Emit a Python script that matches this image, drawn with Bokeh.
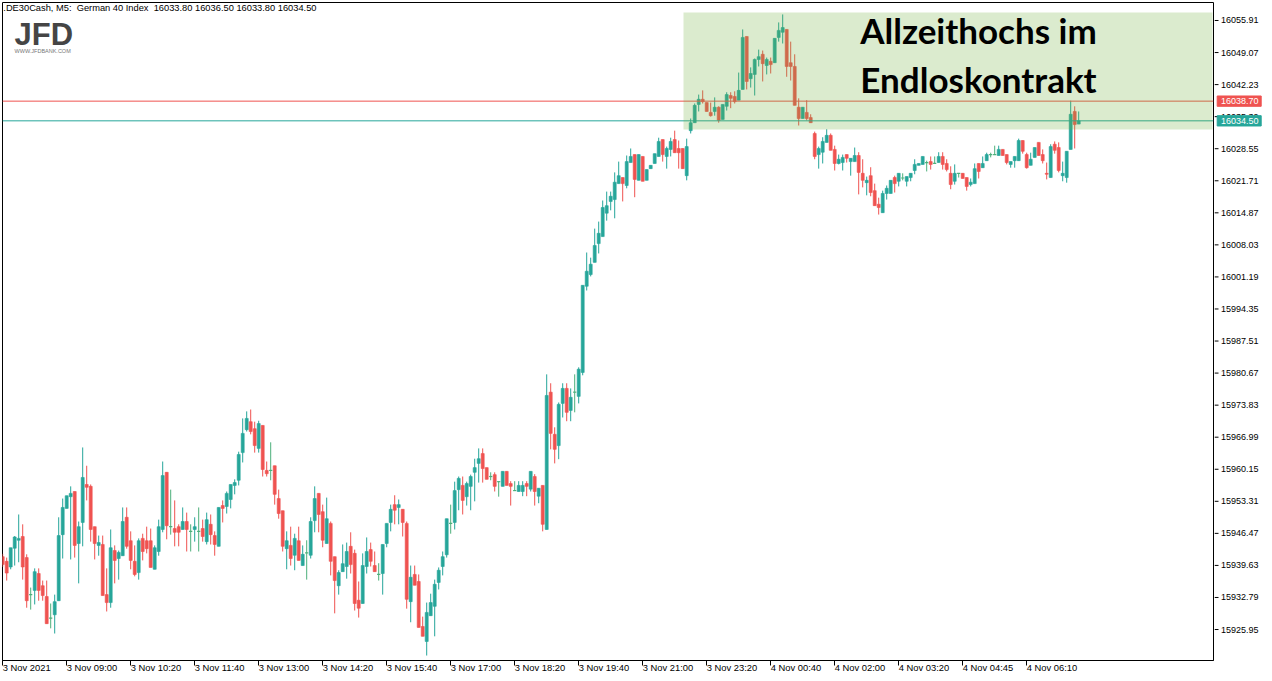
from bokeh.plotting import figure
from bokeh.layouts import row
from bokeh.core.properties import value
from bokeh.models import (Range1d, FixedTicker, Span, BoxAnnotation, Label, ColumnDataSource)
from bokeh.embed import file_html
from bokeh.resources import INLINE

# .DE30Cash M5 candles, 3 Nov 2021 07:40 -> 4 Nov 2021 07:05 (bar index on the x axis)
opens = [
    15941.5, 15940.5, 15939.3, 15943.3, 15945.0, 15945.8, 15941.3, 15933.4, 15934.3, 15937.9,
    15935.3, 15933.0, 15928.4, 15929.1, 15932.1, 15946.2, 15951.8, 15954.3, 15955.4, 15944.3,
    15948.8, 15956.9, 15956.5, 15947.9, 15943.9, 15944.1, 15933.4, 15931.7, 15942.8, 15941.1,
    15941.7, 15949.9, 15944.9, 15940.5, 15938.1, 15945.4, 15944.9, 15944.9, 15938.8, 15942.6,
    15947.3, 15959.5, 15947.9, 15947.5, 15947.9, 15947.3, 15949.0, 15946.9, 15947.3, 15946.9,
    15947.5, 15944.7, 15948.4, 15946.0, 15943.7, 15952.4, 15952.2, 15953.7, 15956.7, 15957.8,
    15963.7, 15968.6, 15970.3, 15968.8, 15964.6, 15969.5, 15959.9, 15959.9, 15960.9, 15953.9,
    15951.3, 15943.2, 15943.9, 15941.8, 15944.9, 15939.6, 15942.3, 15941.8, 15949.2, 15955.0,
    15951.1, 15944.3, 15948.6, 15941.5, 15935.3, 15938.3, 15939.4, 15943.7, 15942.2, 15932.2,
    15931.5, 15939.4, 15943.0, 15939.6, 15937.7, 15937.9, 15944.3, 15948.8, 15952.6, 15952.0,
    15951.6, 15948.6, 15931.9, 15937.7, 15936.2, 15926.6, 15923.4, 15928.9, 15930.9, 15936.0,
    15939.4, 15941.9, 15948.6, 15948.8, 15955.8, 15956.7, 15954.3, 15956.5, 15959.5, 15961.4,
    15963.5, 15960.5, 15958.6, 15959.0, 15957.5, 15956.5, 15959.7, 15957.1, 15955.6, 15955.4,
    15955.4, 15957.1, 15955.9, 15958.6, 15954.4, 15956.7, 15947.3, 15976.6, 15967.6, 15965.2,
    15974.2, 15977.4, 15972.7, 15976.6, 15975.7, 15980.8, 15999.2, 16001.7, 16004.3, 16008.3,
    16009.8, 16014.8, 16017.3, 16017.7, 16021.1, 16022.4, 16020.7, 16025.6, 16027.3, 16021.8,
    16026.9, 16021.8, 16024.3, 16025.4, 16026.9, 16030.5, 16026.9, 16028.4, 16030.5, 16028.6,
    16028.6, 16022.8, 16032.4, 16034.1, 16038.0, 16039.1, 16038.4, 16036.3, 16036.5, 16037.4,
    16034.8, 16037.6, 16039.9, 16039.7, 16038.9, 16041.2, 16052.5, 16043.5, 16044.4, 16047.6,
    16048.7, 16046.3, 16047.2, 16046.9, 16052.3, 16053.4, 16054.0, 16046.9, 16046.1, 16037.4,
    16035.0, 16036.3, 16035.2, 16031.8, 16027.3, 16027.8, 16029.9, 16031.4, 16028.4, 16025.4,
    16025.6, 16027.3, 16025.8, 16025.8, 16027.1, 16023.3, 16021.3, 16022.8, 16019.6, 16016.7,
    16014.9, 16019.0, 16019.0, 16022.4, 16021.6, 16022.3, 16021.6, 16022.4, 16023.9, 16025.0,
    16025.2, 16025.6, 16025.8, 16025.4, 16025.6, 16026.9, 16025.4, 16023.3, 16021.6, 16023.3,
    16023.3, 16022.4, 16020.9, 16021.1, 16025.4, 16024.5, 16026.0, 16027.3, 16027.3, 16027.1,
    16028.4, 16027.3, 16025.2, 16026.0, 16026.0, 16030.3, 16027.3, 16025.0, 16026.7, 16029.9,
    16027.3, 16023.3, 16022.4, 16029.5, 16028.8, 16022.8, 16022.4, 16028.4, 16036.5, 16033.8,
]
highs = [
    15942.1, 15941.3, 15943.4, 15945.9, 15950.5, 15948.4, 15942.0, 15934.9, 15939.0, 15939.0,
    15936.4, 15936.4, 15931.5, 15933.4, 15949.9, 15953.9, 15954.5, 15956.5, 15955.4, 15949.0,
    15964.8, 15960.9, 15956.9, 15947.9, 15946.0, 15946.0, 15939.0, 15947.3, 15943.9, 15942.8,
    15952.0, 15952.0, 15946.9, 15943.9, 15945.4, 15946.4, 15947.9, 15947.5, 15943.9, 15949.4,
    15961.8, 15959.5, 15955.8, 15953.5, 15948.4, 15952.0, 15950.9, 15948.4, 15949.9, 15952.0,
    15949.4, 15950.9, 15950.5, 15946.9, 15952.0, 15953.5, 15955.4, 15956.9, 15958.0, 15963.9,
    15971.0, 15972.5, 15972.9, 15970.3, 15970.5, 15969.5, 15961.8, 15965.9, 15960.9, 15955.8,
    15951.3, 15946.9, 15947.9, 15946.4, 15947.9, 15943.9, 15945.0, 15949.9, 15956.5, 15955.0,
    15952.6, 15954.1, 15949.0, 15941.5, 15938.6, 15944.1, 15944.5, 15946.7, 15943.0, 15936.2,
    15942.2, 15945.6, 15944.5, 15942.6, 15940.1, 15944.1, 15948.6, 15952.6, 15954.6, 15953.7,
    15951.6, 15949.0, 15939.6, 15939.6, 15937.7, 15928.7, 15931.7, 15933.6, 15936.6, 15939.2,
    15942.6, 15949.6, 15952.6, 15957.5, 15958.6, 15958.6, 15957.5, 15959.0, 15962.4, 15964.6,
    15964.6, 15960.5, 15959.5, 15959.5, 15957.5, 15959.7, 15959.7, 15957.6, 15957.6, 15957.6,
    15957.6, 15957.6, 15959.7, 15959.1, 15956.1, 15956.7, 15980.4, 15978.5, 15969.1, 15974.4,
    15978.5, 15978.5, 15977.4, 15980.4, 15981.9, 15999.4, 16006.4, 16005.3, 16011.5, 16013.0,
    16017.5, 16019.4, 16019.4, 16023.5, 16025.8, 16022.4, 16027.1, 16028.6, 16027.3, 16027.3,
    16026.9, 16024.1, 16025.0, 16027.5, 16030.9, 16030.5, 16029.0, 16030.9, 16032.4, 16030.3,
    16028.6, 16030.7, 16035.0, 16038.2, 16040.1, 16041.0, 16038.4, 16038.4, 16039.5, 16037.6,
    16038.0, 16040.6, 16040.6, 16040.8, 16044.8, 16054.0, 16052.5, 16045.9, 16047.8, 16049.7,
    16049.5, 16048.0, 16048.0, 16052.1, 16055.5, 16057.2, 16054.0, 16051.4, 16048.7, 16039.3,
    16037.4, 16038.9, 16035.9, 16032.2, 16029.0, 16031.0, 16032.7, 16031.8, 16029.2, 16027.3,
    16027.3, 16027.3, 16026.5, 16028.8, 16027.8, 16026.3, 16022.6, 16024.6, 16021.1, 16018.1,
    16019.6, 16020.7, 16021.8, 16022.8, 16023.3, 16023.3, 16022.6, 16023.3, 16026.3, 16025.4,
    16026.9, 16026.0, 16026.9, 16026.9, 16027.8, 16027.8, 16026.3, 16024.8, 16025.2, 16023.3,
    16023.3, 16022.4, 16022.2, 16025.4, 16025.4, 16026.9, 16027.7, 16027.7, 16029.2, 16029.2,
    16028.4, 16027.3, 16025.8, 16026.9, 16030.7, 16030.3, 16027.7, 16027.7, 16028.8, 16029.9,
    16028.4, 16025.6, 16029.5, 16030.1, 16029.9, 16025.8, 16028.0, 16038.8, 16037.6, 16036.5,
]
lows = [
    15939.3, 15936.4, 15938.8, 15939.6, 15940.3, 15936.6, 15930.6, 15930.2, 15931.3, 15932.1,
    15932.1, 15927.2, 15926.2, 15925.1, 15932.1, 15941.1, 15951.8, 15940.9, 15941.3, 15935.8,
    15943.7, 15953.5, 15944.7, 15940.9, 15941.7, 15933.2, 15929.8, 15930.6, 15935.8, 15936.6,
    15941.7, 15943.2, 15938.8, 15937.3, 15936.6, 15940.7, 15942.2, 15939.2, 15938.8, 15941.7,
    15946.7, 15945.2, 15946.2, 15943.7, 15943.7, 15947.3, 15942.6, 15942.6, 15944.7, 15942.6,
    15944.7, 15944.1, 15944.1, 15941.7, 15943.7, 15948.8, 15950.7, 15951.8, 15954.8, 15956.7,
    15961.6, 15968.2, 15967.6, 15963.7, 15963.7, 15958.6, 15958.6, 15957.8, 15952.6, 15949.6,
    15942.6, 15938.8, 15939.6, 15938.6, 15940.7, 15939.6, 15936.6, 15941.1, 15946.7, 15946.7,
    15943.5, 15944.3, 15937.5, 15929.4, 15933.4, 15938.3, 15936.8, 15937.9, 15930.0, 15928.5,
    15931.5, 15937.9, 15939.4, 15938.3, 15936.4, 15933.4, 15943.5, 15946.9, 15948.4, 15948.4,
    15945.8, 15930.4, 15927.5, 15935.4, 15926.4, 15924.5, 15920.4, 15928.9, 15924.5, 15934.5,
    15937.5, 15941.3, 15946.4, 15947.3, 15951.4, 15950.5, 15952.4, 15951.4, 15953.3, 15957.3,
    15957.3, 15958.0, 15957.8, 15955.4, 15954.3, 15956.5, 15956.7, 15952.4, 15955.6, 15955.4,
    15954.4, 15954.4, 15955.4, 15952.4, 15952.9, 15946.9, 15947.3, 15964.4, 15961.4, 15962.3,
    15971.2, 15970.4, 15970.4, 15972.3, 15974.2, 15980.2, 15998.3, 16001.3, 16004.3, 16006.2,
    16009.8, 16013.2, 16015.4, 16013.7, 16021.1, 16017.3, 16020.1, 16025.6, 16018.2, 16021.8,
    16021.6, 16021.8, 16024.3, 16025.4, 16026.9, 16025.8, 16024.3, 16026.9, 16027.7, 16024.3,
    16024.3, 16021.8, 16031.8, 16034.1, 16036.5, 16038.2, 16036.5, 16035.4, 16035.6, 16034.1,
    16034.8, 16036.7, 16037.2, 16038.2, 16038.9, 16041.2, 16041.2, 16041.6, 16039.9, 16046.1,
    16042.9, 16044.4, 16044.6, 16046.9, 16051.4, 16051.0, 16043.9, 16043.1, 16037.8, 16033.5,
    16035.0, 16034.6, 16034.1, 16026.3, 16024.3, 16025.4, 16029.9, 16028.2, 16023.9, 16025.2,
    16023.9, 16025.6, 16022.8, 16025.8, 16018.8, 16020.3, 16018.6, 16018.4, 16016.4, 16014.5,
    16014.9, 16017.7, 16019.0, 16019.2, 16020.5, 16021.8, 16020.5, 16021.6, 16023.1, 16025.0,
    16025.2, 16023.7, 16024.1, 16025.4, 16025.6, 16024.1, 16023.7, 16019.9, 16020.9, 16022.4,
    16022.2, 16019.6, 16020.5, 16021.1, 16022.2, 16024.5, 16026.0, 16026.7, 16027.3, 16027.1,
    16027.1, 16025.2, 16024.5, 16024.5, 16026.0, 16027.5, 16024.3, 16025.0, 16026.7, 16027.1,
    16025.4, 16022.0, 16022.4, 16027.5, 16023.5, 16021.6, 16021.3, 16028.4, 16028.6, 16033.8,
]
closes = [
    15939.8, 15938.0, 15943.4, 15945.7, 15945.4, 15939.3, 15932.1, 15933.4, 15938.3, 15934.3,
    15933.2, 15927.2, 15928.4, 15931.9, 15946.0, 15952.0, 15954.5, 15955.0, 15943.9, 15947.9,
    15958.4, 15956.3, 15947.3, 15944.3, 15944.5, 15933.2, 15931.7, 15943.4, 15940.7, 15942.4,
    15949.0, 15943.7, 15940.7, 15937.7, 15944.9, 15942.6, 15943.2, 15939.2, 15943.4, 15947.9,
    15958.8, 15948.1, 15947.9, 15946.7, 15946.7, 15949.0, 15947.3, 15946.9, 15947.9, 15946.9,
    15945.8, 15949.4, 15946.2, 15944.1, 15952.0, 15951.8, 15955.0, 15956.9, 15957.3, 15963.3,
    15967.8, 15971.0, 15968.2, 15965.2, 15969.9, 15960.1, 15959.2, 15959.9, 15954.8, 15950.7,
    15943.7, 15944.9, 15941.1, 15945.4, 15940.7, 15942.0, 15942.3, 15949.0, 15953.9, 15950.5,
    15945.0, 15949.6, 15940.5, 15936.4, 15938.1, 15940.0, 15942.6, 15939.8, 15931.5, 15930.5,
    15939.6, 15942.6, 15940.5, 15938.3, 15937.7, 15944.1, 15948.6, 15951.6, 15951.4, 15952.6,
    15948.8, 15932.4, 15937.1, 15935.4, 15926.4, 15924.5, 15929.6, 15931.7, 15935.6, 15938.6,
    15941.5, 15949.6, 15948.6, 15955.6, 15958.2, 15953.5, 15957.1, 15958.6, 15960.5, 15962.4,
    15960.3, 15958.0, 15958.6, 15956.5, 15957.5, 15959.7, 15956.7, 15956.5, 15955.6, 15956.7,
    15956.7, 15956.5, 15959.7, 15955.4, 15956.1, 15948.4, 15975.9, 15967.8, 15964.4, 15974.0,
    15977.4, 15972.3, 15975.5, 15976.6, 15981.5, 15999.4, 16002.4, 16003.9, 16007.9, 16010.5,
    16016.0, 16016.4, 16018.4, 16021.4, 16022.8, 16021.1, 16025.8, 16026.9, 16022.0, 16027.3,
    16021.6, 16024.1, 16025.0, 16027.5, 16030.1, 16027.3, 16028.6, 16030.1, 16027.7, 16027.7,
    16024.3, 16029.0, 16034.1, 16037.8, 16039.1, 16038.6, 16036.5, 16035.6, 16037.4, 16034.6,
    16038.0, 16040.1, 16039.3, 16038.6, 16041.0, 16052.3, 16042.9, 16044.6, 16047.6, 16048.2,
    16046.7, 16047.6, 16046.5, 16052.1, 16053.8, 16054.4, 16046.1, 16046.1, 16037.8, 16035.0,
    16037.4, 16035.0, 16034.1, 16026.9, 16028.6, 16030.1, 16031.4, 16028.2, 16025.4, 16026.3,
    16026.7, 16026.5, 16026.5, 16027.1, 16023.5, 16021.8, 16021.8, 16019.2, 16016.4, 16016.0,
    16019.0, 16020.1, 16021.8, 16021.1, 16023.3, 16022.3, 16022.6, 16023.3, 16025.2, 16025.4,
    16026.9, 16025.6, 16025.2, 16025.4, 16026.9, 16025.2, 16024.1, 16020.9, 16023.3, 16023.3,
    16022.2, 16020.5, 16021.4, 16024.3, 16023.7, 16025.4, 16027.3, 16027.3, 16027.3, 16028.4,
    16027.1, 16025.6, 16025.8, 16026.9, 16030.3, 16028.0, 16024.5, 16026.3, 16028.8, 16027.1,
    16026.0, 16023.1, 16029.0, 16028.2, 16023.9, 16023.3, 16028.0, 16035.9, 16033.7, 16034.5,
]

# time axis labels (every 16 bars)
time_ticks = [0, 16, 32, 48, 64, 80, 96, 112, 128, 144, 160, 176, 192, 208, 224, 240, 256]
time_labels = ["3 Nov 2021", "3 Nov 09:00", "3 Nov 10:20", "3 Nov 11:40", "3 Nov 13:00",
               "3 Nov 14:20", "3 Nov 15:40", "3 Nov 17:00", "3 Nov 18:20", "3 Nov 19:40",
               "3 Nov 21:00", "3 Nov 23:20", "4 Nov 00:40", "4 Nov 02:00", "4 Nov 03:20",
               "4 Nov 04:45", "4 Nov 06:10"]

# price scale
price_ticks = [15925.95, 15932.79, 15939.63, 15946.47, 15953.31, 15960.15, 15966.99,
               15973.83, 15980.67, 15987.51, 15994.35, 16001.19, 16008.03, 16014.87,
               16021.71, 16028.55, 16035.39, 16042.23, 16049.07, 16055.91]

# reference lines and the all-time-high zone
line_high = 16038.70
line_bid = 16034.50
zone_top = 16057.6
zone_bottom = 16032.65
zone_first_bar = 170.2

NB = "\u00a0"
header = f".DE30Cash, M5: {NB}German 40 Index {NB}16033.80 16036.50 16033.80 16034.50"
title_lines = ["Allzeithochs im", "Endloskontrakt"]

UP = "#26a69a"
DOWN = "#ef5350"
FLAT = "#4caf7a"

n = len(opens)
bars = list(range(n))
body = [i for i in bars if opens[i] != closes[i]]
flat = [i for i in bars if opens[i] == closes[i]]

wick_src = ColumnDataSource(dict(
    x=bars, high=highs, low=lows,
    color=[UP if closes[i] > opens[i] else DOWN if closes[i] < opens[i] else FLAT for i in bars]))
body_src = ColumnDataSource(dict(
    x=body,
    top=[max(opens[i], closes[i]) for i in body],
    bottom=[min(opens[i], closes[i]) for i in body],
    color=[UP if closes[i] > opens[i] else DOWN for i in body]))
flat_src = ColumnDataSource(dict(
    x0=[i - 0.4 for i in flat], x1=[i + 0.4 for i in flat], y=[closes[i] for i in flat]))

price_range = Range1d(15919.34, 16059.75)

# ---- chart pane ----
p = figure(width=1214, height=681, output_backend="svg", toolbar_location=None,
           x_range=Range1d(-0.05, 302.7), y_range=price_range,
           y_axis_location=None,
           min_border_left=2, min_border_top=2, min_border_right=1, min_border_bottom=21)
p.background_fill_color = "white"
p.border_fill_color = "white"
p.outline_line_color = "black"
p.outline_line_width = 1
p.xgrid.visible = False
p.ygrid.visible = False

p.segment(x0="x", y0="low", x1="x", y1="high", line_color="color", line_width=1, source=wick_src)
p.vbar(x="x", width=0.75, top="top", bottom="bottom", fill_color="color",
       line_color="color", line_width=0.6, source=body_src)
p.segment(x0="x0", y0="y", x1="x1", y1="y", line_color=FLAT, line_width=1.2, source=flat_src)

p.add_layout(Span(location=line_high, dimension="width", line_color="#ef5350", line_width=1))
p.add_layout(Span(location=line_bid, dimension="width", line_color="#26a69a", line_width=1))

p.add_layout(BoxAnnotation(left=zone_first_bar, right=302.45, top=zone_top, bottom=zone_bottom,
                           fill_color="#6faf3b", fill_alpha=0.25, line_alpha=0))

xax = p.xaxis[0]
xax.ticker = FixedTicker(ticks=time_ticks)
xax.major_label_overrides = {t: s for t, s in zip(time_ticks, time_labels)}
xax.major_label_orientation = -0.0001
xax.major_tick_in = 0
xax.major_tick_out = 5
xax.minor_tick_out = 0
xax.minor_tick_in = 0
xax.major_label_standoff = 2
xax.major_label_text_font = "Liberation Sans"
xax.major_label_text_font_size = "9.4px"
xax.major_label_text_color = "black"
xax.axis_line_color = "black"

# zone caption
p.add_layout(Label(x=243.95, y=16053.78, text=title_lines[0], text_align="center",
                   text_baseline="alphabetic", text_font="Lato", text_font_style="bold",
                   text_font_size="35px", text_color="black"))
p.add_layout(Label(x=243.95, y=16043.53, text=title_lines[1], text_align="center",
                   text_baseline="alphabetic", text_font="Lato", text_font_style="bold",
                   text_font_size="35px", text_color="black"))

# symbol header and broker mark
p.add_layout(Label(x=0.15, y=16059.6, text=header, text_align="left", text_baseline="top",
                   text_font="Liberation Sans", text_font_size="9.3px", text_color="black",
                   background_fill_color="white"))
p.add_layout(Label(x=2.95, y=16052.92, text="JFD", text_align="left",
                   text_baseline="alphabetic", text_font="Liberation Sans",
                   text_font_style="bold", text_font_size="31px", text_color="#454545"))
p.add_layout(Label(x=2.95, y=16049.5, text="WWW.JFDBANK.COM", text_align="left",
                   text_baseline="alphabetic", text_font="Liberation Sans",
                   text_font_size="5.5px", text_color="#777777"))

# ---- price scale pane (x in pixels from the chart's right edge) ----
s = figure(width=58, height=681, output_backend="svg", toolbar_location=None,
           x_range=Range1d(0, 58), y_range=price_range,
           x_axis_location=None, y_axis_location=None,
           min_border_left=0, min_border_right=0, min_border_top=2, min_border_bottom=21)
s.background_fill_color = "white"
s.border_fill_color = "white"
s.outline_line_color = None
s.xgrid.visible = False
s.ygrid.visible = False

s.segment(x0=0, x1=4, y0=price_ticks, y1=price_ticks, line_color="black", line_width=1)
s.text(x=6.5, y=price_ticks, text=[f"{t:.2f}" for t in price_ticks],
       text_font=value("Liberation Sans"), text_font_size="9px", text_color="black",
       text_align="left", text_baseline="middle")

tag_prices = [line_high, line_bid]
tag_colors = ["#ef5350", "#26a69a"]
tag_half = 1.1
s.quad(left=2.7, right=46.7, top=[v + tag_half for v in tag_prices],
       bottom=[v - tag_half for v in tag_prices], fill_color=tag_colors, line_color=tag_colors)
s.text(x=6.5, y=tag_prices, text=[f"{v:.2f}" for v in tag_prices],
       text_font=value("Liberation Sans"), text_font_size="9px", text_color="white",
       text_align="left", text_baseline="middle")

layout = row(p, s, spacing=0)
open("out.html", "w").write(file_html(layout, INLINE))
